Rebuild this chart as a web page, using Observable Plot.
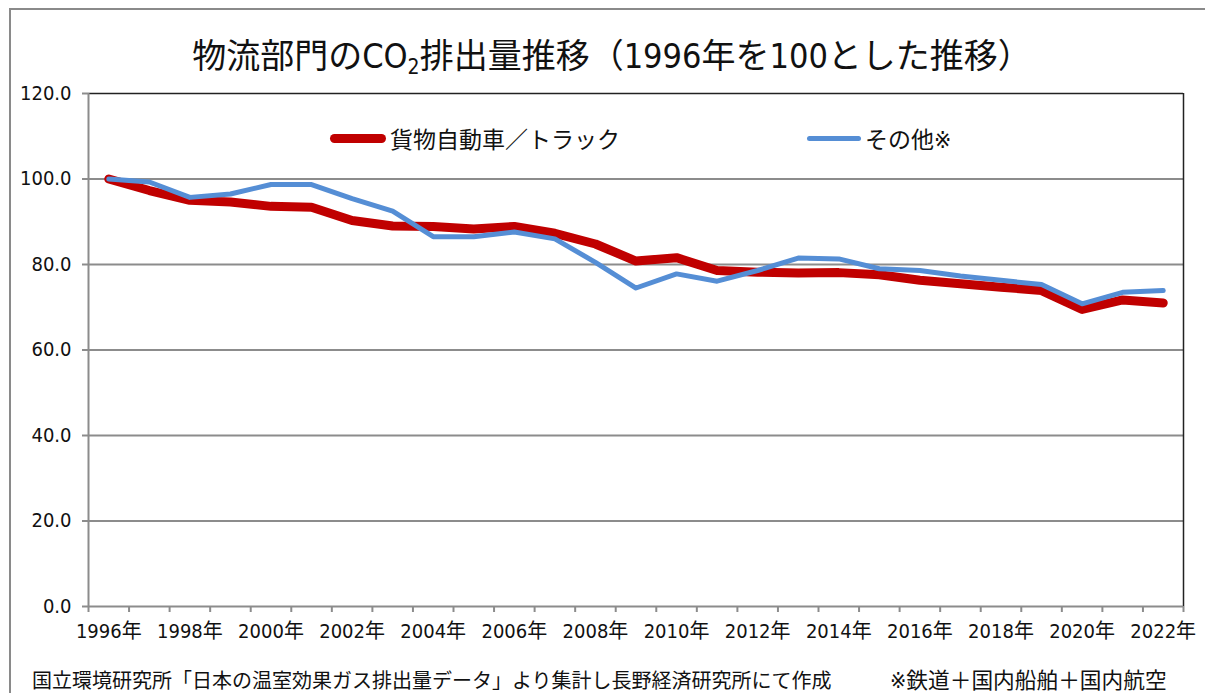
<!DOCTYPE html>
<html>
<head>
<meta charset="utf-8">
<script src="https://cdn.jsdelivr.net/npm/d3@7"></script>
<script src="https://cdn.jsdelivr.net/npm/@observablehq/plot@0.6"></script>
<style>
  html, body { margin: 0; padding: 0; background: #fff; }
  #wrap { position: relative; width: 1205px; height: 693px; overflow: hidden; background: #fff;
    font-family: "DejaVu Sans Condensed", "Noto Sans CJK JP", sans-serif; color: #111; }
  #frame { position: absolute; left: 9px; top: 8px; width: 1300px; height: 800px;
    border-left: 2px solid #8a8a8a; border-top: 2px solid #8a8a8a; }
  #title { position: absolute; left: 0; width: 1224px; top: 36px; text-align: center;
    font-size: 34px; line-height: 40px; white-space: nowrap; }
  #title sub { font-size: 21px; vertical-align: -6px; line-height: 0; }
  #chart { position: absolute; left: 0; top: 80px; }
  .leg { position: absolute; top: 124px; height: 28px; display: flex; align-items: center;
    font-size: 23px; white-space: nowrap; }
  .sw { display: inline-block; border-radius: 6px; margin-right: 4px; }
  .foot { position: absolute; top: 667px; font-size: 20px; line-height: 28px; white-space: nowrap; }
</style>
</head>
<body>
<div id="wrap">
  <div id="frame"></div>
  <div id="title">物流部門のCO<sub>2</sub>排出量推移（1996年を100とした推移）</div>
  <div id="chart"></div>
  <div id="leg1" class="leg" style="left:330px"><span class="sw" style="width:56px;height:9px;background:#C00000"></span>貨物自動車／トラック</div>
  <div id="leg2" class="leg" style="left:807px"><span class="sw" style="width:54px;height:5px;background:#558ED5"></span>その他※</div>
  <div class="foot" style="left:32px">国立環境研究所「日本の温室効果ガス排出量データ」より集計し長野経済研究所にて作成</div>
  <div class="foot" style="left:890px;font-size:21.7px">※鉄道＋国内船舶＋国内航空</div>
</div>
<script>
const years = [1996,1997,1998,1999,2000,2001,2002,2003,2004,2005,2006,2007,2008,2009,2010,2011,2012,2013,2014,2015,2016,2017,2018,2019,2020,2021,2022];
const truck = [100.0,97.3,95.0,94.6,93.6,93.4,90.3,89.0,88.9,88.3,88.9,87.3,84.8,80.8,81.6,78.6,78.2,78.0,78.1,77.6,76.3,75.5,74.7,73.9,69.5,71.7,71.0];
const other = [100.0,99.3,95.7,96.5,98.7,98.7,95.4,92.5,86.5,86.5,87.6,86.0,80.5,74.5,77.8,76.1,78.6,81.5,81.3,79.0,78.6,77.3,76.3,75.3,70.8,73.5,73.9];
const yTicks = [0,20,40,60,80,100,120];
const xLabelYears = years.filter(y => y % 2 === 0);

const data = years.map((y, i) => ({year: y, truck: truck[i], other: other[i]}));
const bounds = d3.range(years[0] - 0.5, years[years.length - 1] + 1, 1);
const grid = "#8c8c8c";

const chart = Plot.plot({
  width: 1205,
  height: 585,
  marginLeft: 88,
  marginRight: 22,
  marginTop: 13,
  marginBottom: 59,
  style: {fontFamily: '"DejaVu Sans Condensed","Noto Sans CJK JP",sans-serif', fontSize: "20px", color: "#111", background: "transparent"},
  x: {domain: [years[0] - 0.5, years[years.length - 1] + 0.5]},
  y: {domain: [0, 120]},
  marks: [
    Plot.gridY(yTicks.filter(v => v > 0 && v < 120), {stroke: grid, strokeOpacity: 1, strokeWidth: 2}),
    Plot.ruleY([120], {stroke: "#222", strokeWidth: 1.5}),
    Plot.ruleX([years[years.length - 1] + 0.5], {stroke: "#222", strokeWidth: 1.5}),
    Plot.axisY(yTicks, {tickSize: 6, tickPadding: 11, tickFormat: d => d.toFixed(1), stroke: grid, strokeWidth: 2, label: null}),
    Plot.axisX(bounds, {tickSize: 6, tickFormat: () => "", stroke: grid, strokeWidth: 2, label: null}),
    Plot.axisX(xLabelYears, {tickSize: 0, tickPadding: 17, tickFormat: d => d + "年", label: null}),
    Plot.ruleY([0], {stroke: grid, strokeWidth: 2}),
    Plot.ruleX([years[0] - 0.5], {stroke: grid, strokeWidth: 2}),
    Plot.line(data, {x: "year", y: "truck", stroke: "#C00000", strokeWidth: 9, strokeLinecap: "round", strokeLinejoin: "round"}),
    Plot.line(data, {x: "year", y: "other", stroke: "#558ED5", strokeWidth: 5, strokeLinecap: "round", strokeLinejoin: "round"})
  ]
});
document.getElementById("chart").appendChild(chart);
</script>
</body>
</html>
